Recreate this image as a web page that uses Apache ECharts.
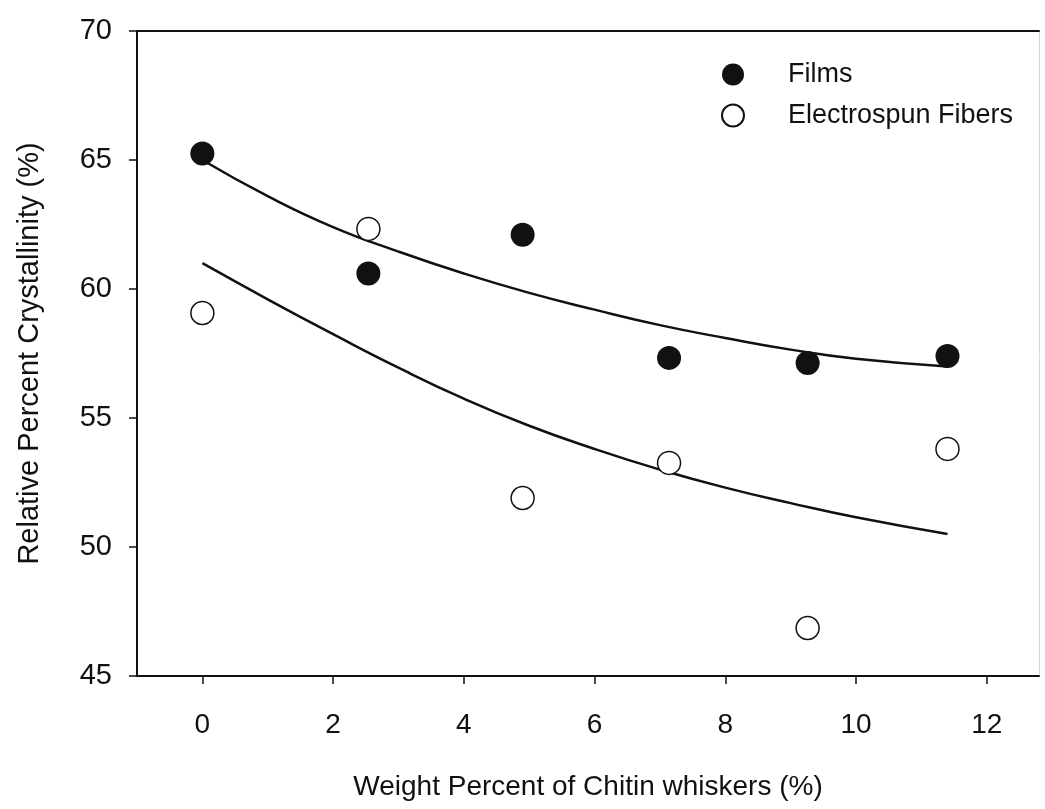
<!DOCTYPE html>
<html>
<head>
<meta charset="utf-8">
<title>Relative Percent Crystallinity</title>
<script src="https://cdn.jsdelivr.net/npm/echarts@6/dist/echarts.min.js"></script>
<style>
  html, body {
    margin: 0;
    padding: 0;
    background: #fff;
  }
  #chart {
    width: 1045px;
    height: 809px;
  }
</style>
</head>
<body>
<div id="chart"></div>
<script>
  const filmsData = [
    [0, 65.25], [2.54, 60.6], [4.9, 62.1], [7.14, 57.33], [9.26, 57.13], [11.4, 57.4]
  ];
  const fibersData = [
    [0, 59.07], [2.54, 62.33], [4.9, 51.9], [7.14, 53.26], [9.26, 46.86], [11.4, 53.8]
  ];

  // fitted curves
  const fitX = [0, 1, 2, 3, 4, 5, 6, 7, 8, 9, 10, 11.4];
  const filmsFit = [65.0, 63.6, 62.4, 61.45, 60.6, 59.85, 59.2, 58.6, 58.1, 57.65, 57.3, 57.0];
  const fibersFit = [61.0, 59.6, 58.25, 56.95, 55.75, 54.7, 53.8, 53.0, 52.3, 51.7, 51.15, 50.5];

  const xTicks = [0, 2, 4, 6, 8, 10, 12];

  const font = "'Liberation Sans', Arial, sans-serif";

  function pairs(xs, ys) {
    return xs.map((x, i) => [x, ys[i]]);
  }

  const chart = echarts.init(document.getElementById("chart"), null, { renderer: "canvas" });

  const option = {
    backgroundColor: "#fff",
    animation: false,
    textStyle: { fontFamily: font, color: "#111" },
    grid: {
      left: 137,
      top: 31,
      right: 6,
      bottom: 133
    },
    legend: {
      orient: "vertical",
      left: 716,
      top: 56,
      itemWidth: 22,
      itemHeight: 22,
      itemGap: 14,
      data: ["Films", "Electrospun Fibers"],
      textStyle: {
        fontFamily: font,
        fontSize: 27,
        color: "#111",
        lineHeight: 22,
        padding: [0, 0, 0, 39]
      }
    },
    xAxis: [
      {
        type: "value",
        min: -1,
        max: 12.8,
        name: "Weight Percent of Chitin whiskers (%)",
        nameLocation: "middle",
        nameGap: 97,
        nameTextStyle: { fontFamily: font, fontSize: 28, color: "#111" },
        axisLine: { show: true, onZero: false, lineStyle: { color: "#111", width: 2 } },
        axisTick: {
          show: true,
          length: 8,
          customValues: xTicks,
          lineStyle: { color: "#111", width: 1.5 }
        },
        axisLabel: {
          customValues: xTicks,
          margin: 35,
          fontSize: 28,
          fontFamily: font,
          color: "#111"
        },
        splitLine: { show: false }
      },
      {
        // top frame line
        type: "value",
        position: "top",
        min: -1,
        max: 12.8,
        axisLine: { show: true, onZero: false, lineStyle: { color: "#111", width: 2 } },
        axisTick: { show: false },
        axisLabel: { show: false },
        splitLine: { show: false }
      }
    ],
    yAxis: [
      {
        type: "value",
        position: "left",
        min: 45,
        max: 70,
        interval: 5,
        name: "Relative Percent Crystallinity (%)",
        nameLocation: "middle",
        nameGap: 93,
        nameTextStyle: { fontFamily: font, fontSize: 29, color: "#111" },
        axisLine: { show: true, onZero: false, lineStyle: { color: "#111", width: 2 } },
        axisTick: { show: true, length: 8, lineStyle: { color: "#111", width: 1.5 } },
        axisLabel: {
          margin: 25,
          fontSize: 29,
          fontFamily: font,
          color: "#111"
        },
        splitLine: { show: false }
      },
      {
        // faint right frame line
        type: "value",
        position: "right",
        min: 45,
        max: 70,
        axisLine: { show: true, onZero: false, lineStyle: { color: "#d8d8d8", width: 1 } },
        axisTick: { show: false },
        axisLabel: { show: false },
        splitLine: { show: false }
      }
    ],
    series: [
      {
        name: "Films fit",
        type: "line",
        data: pairs(fitX, filmsFit),
        smooth: 0.5,
        showSymbol: false,
        lineStyle: { color: "#111", width: 2.5 },
        z: 2
      },
      {
        name: "Fibers fit",
        type: "line",
        data: pairs(fitX, fibersFit),
        smooth: 0.5,
        showSymbol: false,
        lineStyle: { color: "#111", width: 2.5 },
        z: 2
      },
      {
        name: "Films",
        type: "scatter",
        data: filmsData,
        symbol: "circle",
        symbolSize: 24,
        itemStyle: { color: "#111", opacity: 1 },
        z: 3
      },
      {
        name: "Electrospun Fibers",
        type: "scatter",
        data: fibersData,
        symbol: "circle",
        symbolSize: 23,
        itemStyle: { color: "#fff", borderColor: "#111", borderWidth: 1.5, opacity: 1 },
        z: 3
      }
    ]
  };

  chart.setOption(option);
</script>
</body>
</html>
